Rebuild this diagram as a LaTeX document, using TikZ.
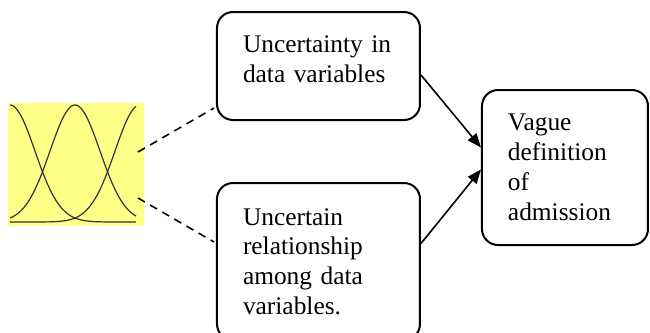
\documentclass[tikz,border=0pt]{standalone}
\usepackage{fontspec}
\setmainfont{Liberation Serif}
\usetikzlibrary{arrows.meta,calc}
\begin{document}
\begin{tikzpicture}[x=0.5pt,y=-0.5pt,
	box/.style={draw,line width=1pt,rounded corners=8pt,align=left,inner xsep=13pt,font=\fontsize{12.7}{14.9}\selectfont},
	dashline/.style={line width=0.8pt,dash pattern=on 4pt off 3pt},
	arrowline/.style={line width=0.8pt,-{Triangle[length=7pt,width=5.5pt]}},
	curve/.style={line width=0.6pt,black!80}]
	\useasboundingbox (0,0) rectangle (650,333);

	\node (mf) at (76,164.5) [fill={rgb,255:red,255;green,255;blue,135},minimum width=68pt,minimum height=61.5pt,inner sep=0pt] {};
	\draw[curve] plot[domain=10:136,samples=70] (\x,{222-117*exp(-0.5*((\x-10)/25)^2)});
	\draw[curve] plot[domain=10:136,samples=70] (\x,{222-117*exp(-0.5*((\x-75)/25)^2)});
	\draw[curve] plot[domain=10:136,samples=70] (\x,{222-117*exp(-0.5*((\x-140)/25)^2)});

	\node (box1) at (318.5,66) [box,text width=75.5pt,minimum height=54pt,text depth=22pt] {Uncertainty in\\data variables};
	\node (box2) at (318.5,261.5) [box,text width=75.5pt,minimum height=78.5pt] {Uncertain\\relationship\\among data\\variables.};
	\node (box3) at (565,167.5) [box,text width=57pt,minimum height=77.5pt] {Vague\\definition\\of\\admission};

	\coordinate (mf1) at (138,152);
	\coordinate (mf2) at (138,198);

	\draw[dashline] (mf1) -- ($(box1.south west)+(-2,-13)$);
	\draw[dashline] (mf2) -- ($(box2.north west)+(-2,60)$);
	\draw[arrowline] ($(box1.east)+(0,9)$) -- ($(box3.west)+(0,-20)$);
	\draw[arrowline] ($(box2.east)+(0,-18)$) -- ($(box3.west)+(0,2)$);
\end{tikzpicture}
\end{document}
